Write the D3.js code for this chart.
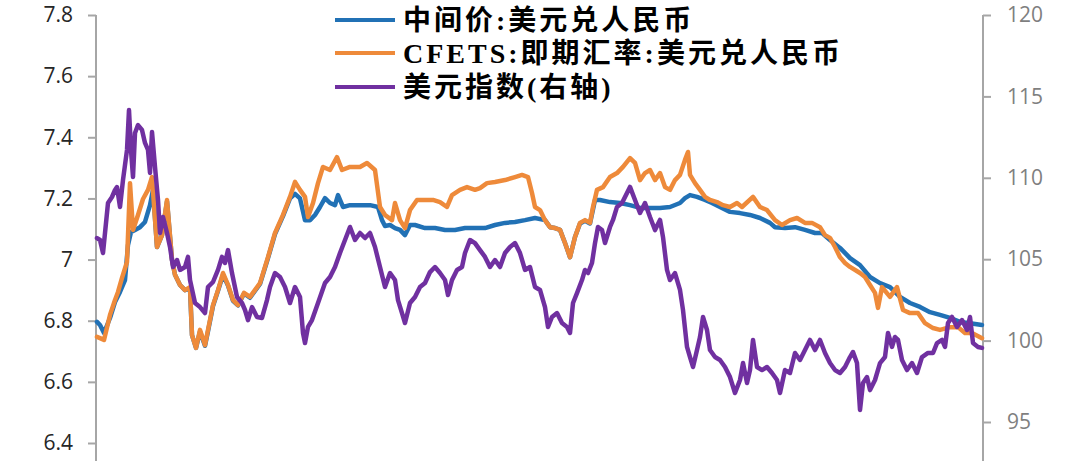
<!DOCTYPE html>
<html>
<head>
<meta charset="utf-8">
<script src="https://cdn.jsdelivr.net/npm/d3@7/dist/d3.min.js"></script>
<style>
  html, body { margin: 0; padding: 0; background: #fff; }
  svg { display: block; }
</style>
</head>
<body>
<svg id="chart" width="1080" height="461"></svg>
<script>
// ---- data (trading-day index, value) ----
const seriesNames = ["中间价:美元兑人民币", "CFETS:即期汇率:美元兑人民币", "美元指数(右轴)"];
const seriesColors = ["#2171b5", "#ee8a3a", "#7030a0"];
const leftTicks = [6.4, 6.6, 6.8, 7.0, 7.2, 7.4, 7.6, 7.8];
const rightTicks = [95, 100, 105, 110, 115, 120];

const midRate = [[0,6.796],[3,6.786],[7,6.760],[13,6.809],[18,6.861],[23,6.894],[28,6.933],[31,7.048],[34,7.090],[38,7.097],[43,7.106],[48,7.123],[53,7.178],[56,7.228],[60,7.041],[65,7.080],[70,7.190],[75,6.999],[78,6.950],[83,6.917],[88,6.900],[93,6.905],[95,6.753],[99,6.711],[103,6.765],[108,6.718],[111,6.765],[116,6.848],[121,6.898],[126,6.950],[131,6.915],[136,6.865],[141,6.850],[147,6.889],[153,6.875],[163,6.920],[171,7.005],[178,7.083],[186,7.142],[193,7.200],[198,7.215],[203,7.200],[208,7.129],[213,7.129],[218,7.146],[223,7.172],[228,7.201],[233,7.185],[238,7.178],[241,7.211],[246,7.172],[253,7.178],[263,7.178],[273,7.178],[281,7.172],[285,7.129],[288,7.110],[293,7.113],[298,7.103],[303,7.097],[308,7.080],[313,7.113],[318,7.113],[328,7.103],[338,7.103],[348,7.097],[358,7.097],[368,7.103],[378,7.103],[388,7.103],[398,7.113],[408,7.120],[418,7.123],[428,7.129],[438,7.136],[448,7.129],[453,7.106],[458,7.103],[463,7.097],[468,7.054],[473,7.008],[478,7.074],[483,7.118],[488,7.127],[493,7.118],[498,7.195],[503,7.195],[513,7.188],[523,7.185],[533,7.178],[543,7.169],[553,7.169],[563,7.169],[573,7.172],[583,7.185],[588,7.201],[593,7.211],[600,7.205],[608,7.195],[615,7.185],[623,7.172],[633,7.156],[643,7.152],[653,7.146],[663,7.136],[673,7.120],[678,7.106],[688,7.103],[698,7.106],[708,7.097],[718,7.087],[725,7.087],[733,7.064],[743,7.038],[753,7.005],[763,6.982],[773,6.943],[783,6.923],[793,6.910],[803,6.878],[813,6.858],[823,6.845],[833,6.828],[843,6.819],[853,6.809],[863,6.796],[873,6.792],[885,6.786]];

const cfetsSpot = [[0,6.747],[3,6.743],[7,6.737],[13,6.819],[18,6.868],[21,6.894],[25,6.940],[30,6.992],[33,7.250],[36,7.097],[41,7.146],[46,7.198],[51,7.228],[55,7.270],[60,7.041],[65,7.080],[70,7.195],[75,6.999],[78,6.950],[83,6.917],[88,6.900],[93,6.910],[95,6.753],[99,6.711],[103,6.770],[108,6.720],[111,6.770],[116,6.851],[121,6.900],[126,6.956],[131,6.917],[136,6.868],[141,6.851],[147,6.891],[153,6.878],[163,6.923],[171,7.008],[178,7.087],[186,7.146],[193,7.205],[198,7.254],[203,7.228],[208,7.205],[211,7.139],[216,7.185],[221,7.250],[226,7.303],[233,7.293],[240,7.335],[245,7.293],[253,7.303],[263,7.303],[270,7.316],[278,7.293],[283,7.172],[288,7.146],[295,7.129],[298,7.185],[303,7.129],[308,7.103],[313,7.162],[320,7.195],[328,7.195],[336,7.195],[343,7.188],[350,7.172],[355,7.211],[363,7.228],[370,7.237],[378,7.228],[383,7.234],[390,7.250],[398,7.254],[408,7.260],[418,7.270],[425,7.277],[431,7.270],[435,7.218],[438,7.172],[443,7.162],[448,7.129],[453,7.106],[458,7.103],[463,7.097],[468,7.054],[473,7.008],[478,7.074],[483,7.120],[488,7.129],[493,7.120],[496,7.172],[500,7.228],[506,7.237],[513,7.270],[520,7.283],[526,7.303],[533,7.332],[538,7.316],[543,7.260],[548,7.283],[553,7.293],[558,7.260],[563,7.283],[568,7.237],[573,7.228],[578,7.260],[583,7.277],[588,7.326],[591,7.352],[593,7.277],[598,7.250],[603,7.228],[608,7.205],[613,7.195],[620,7.188],[626,7.178],[633,7.172],[640,7.185],[645,7.172],[656,7.205],[663,7.172],[670,7.162],[678,7.129],[685,7.113],[693,7.129],[700,7.136],[708,7.120],[715,7.120],[723,7.106],[728,7.080],[733,7.071],[738,7.041],[743,7.008],[748,6.989],[753,6.976],[763,6.956],[768,6.943],[773,6.917],[778,6.891],[781,6.842],[785,6.910],[793,6.878],[800,6.910],[806,6.835],[813,6.825],[821,6.825],[828,6.792],[836,6.776],[843,6.770],[853,6.779],[861,6.779],[868,6.760],[875,6.760],[885,6.743]];

const dollarIndex = [[0,106.30],[3,106.18],[6,105.38],[8,106.61],[11,108.45],[15,108.82],[18,109.25],[20,109.43],[23,108.21],[26,109.86],[30,111.71],[32,114.16],[34,111.71],[36,110.05],[38,112.75],[41,113.24],[45,112.94],[48,112.14],[51,111.71],[53,110.30],[55,112.81],[58,110.66],[61,108.64],[63,106.61],[66,107.59],[70,106.61],[73,105.75],[76,104.52],[80,104.95],[83,104.34],[88,104.52],[91,105.14],[93,103.72],[98,102.31],[103,102.06],[108,101.69],[111,103.29],[116,103.60],[121,104.34],[125,105.14],[128,104.77],[131,105.56],[135,104.15],[140,102.68],[145,102.31],[148,101.88],[151,101.26],[155,102.06],[160,101.45],[165,101.39],[170,102.49],[173,103.29],[178,104.15],[183,103.91],[188,103.29],[193,102.31],[198,103.29],[203,102.68],[206,100.47],[208,99.85],[211,100.84],[215,101.26],[221,102.31],[228,103.54],[233,103.91],[238,104.52],[243,105.38],[248,106.18],[253,106.98],[258,106.18],[263,106.61],[268,106.30],[273,106.61],[278,105.75],[283,104.52],[288,103.29],[293,104.15],[298,103.72],[301,102.49],[305,101.69],[308,101.08],[313,102.31],[318,102.68],[323,103.29],[328,103.54],[333,104.21],[338,104.52],[343,104.15],[348,103.72],[351,102.80],[355,103.72],[360,104.34],[365,104.52],[368,105.38],[373,106.18],[378,105.99],[383,105.56],[388,105.14],[393,104.52],[398,104.95],[403,104.52],[408,105.38],[413,105.75],[418,105.99],[423,105.38],[428,104.34],[433,104.52],[438,103.29],[443,103.11],[448,102.06],[451,100.84],[455,101.45],[460,101.69],[465,101.08],[470,100.84],[473,100.47],[476,102.31],[480,102.92],[485,103.72],[488,104.34],[491,104.15],[495,104.77],[498,105.99],[501,106.98],[505,106.79],[508,105.99],[513,106.98],[516,107.41],[520,108.21],[525,108.45],[530,109.07],[533,109.44],[538,108.64],[543,107.84],[548,108.45],[553,107.59],[558,106.79],[563,107.41],[566,106.36],[570,104.34],[573,103.72],[578,104.15],[583,103.11],[586,101.88],[590,99.61],[593,98.99],[596,98.38],[600,99.42],[603,100.22],[606,101.45],[610,100.65],[613,99.42],[618,98.99],[623,98.81],[628,98.38],[633,97.76],[638,96.78],[643,97.58],[646,98.62],[650,97.40],[653,98.19],[656,100.04],[660,98.38],[665,98.19],[670,98.38],[675,98.01],[680,97.58],[683,96.78],[688,98.19],[693,98.01],[698,99.24],[703,98.81],[708,99.42],[713,100.04],[718,99.42],[723,100.04],[728,99.24],[733,98.62],[738,98.19],[743,98.01],[748,98.38],[753,98.99],[756,99.30],[760,98.62],[763,95.74],[766,97.40],[770,97.76],[773,96.96],[778,97.58],[783,98.62],[788,98.99],[791,100.47],[795,99.61],[798,100.22],[801,100.04],[805,98.81],[810,98.19],[815,98.62],[820,98.01],[825,98.99],[831,99.24],[836,99.24],[840,99.85],[845,100.04],[848,99.61],[851,101.08],[855,101.45],[860,100.84],[865,101.26],[870,100.65],[873,101.45],[876,99.85],[881,99.61],[885,99.55]];

// ---- layout ----
const svg = d3.select("#chart");
const W = 1080, H = 461;
const plotLeft = 96, plotRight = 983, plotTop = 15;

const x = d3.scaleLinear().domain([0, 885]).range([plotLeft + 1, plotRight - 1]);
const yL = d3.scaleLinear().domain([6.4, 7.8]).range([443, plotTop]);
const yR = d3.scaleLinear().domain([95, 120]).range([422, plotTop]);

const numFont = "'Open Sans', 'Liberation Sans', sans-serif";

// left axis
const gL = svg.append("g").attr("transform", `translate(${plotLeft},0)`)
  .call(d3.axisLeft(yL).tickValues(leftTicks).tickSize(8).tickPadding(15)
    .tickFormat(d => d === 7 ? "7" : d3.format(".1f")(d)));
gL.select(".domain").remove();
gL.selectAll(".tick line").attr("stroke", "#a6a6a6").attr("stroke-width", 2);
gL.selectAll(".tick text").attr("fill", "#262626").style("font-family", numFont).style("font-size", "21px");
svg.append("line").attr("x1", plotLeft).attr("x2", plotLeft).attr("y1", plotTop).attr("y2", H)
  .attr("stroke", "#a6a6a6").attr("stroke-width", 2);

// right axis
const gR = svg.append("g").attr("transform", `translate(${plotRight},0)`)
  .call(d3.axisRight(yR).tickValues(rightTicks).tickSize(8).tickPadding(16));
gR.select(".domain").remove();
gR.selectAll(".tick line").attr("stroke", "#a6a6a6").attr("stroke-width", 2);
gR.selectAll(".tick text").attr("fill", "#7f7f7f").style("font-family", numFont).style("font-size", "21px");
svg.append("line").attr("x1", plotRight).attr("x2", plotRight).attr("y1", plotTop).attr("y2", H)
  .attr("stroke", "#a6a6a6").attr("stroke-width", 2);

// lines
const lineL = d3.line().x(d => x(d[0])).y(d => yL(d[1]));
const lineR = d3.line().x(d => x(d[0])).y(d => yR(d[1]));

const plotData = [
  { data: midRate, gen: lineL, color: seriesColors[0] },
  { data: cfetsSpot, gen: lineL, color: seriesColors[1] },
  { data: dollarIndex, gen: lineR, color: seriesColors[2] }
];
svg.append("g").selectAll("path").data(plotData).join("path")
  .attr("d", d => d.gen(d.data))
  .attr("fill", "none")
  .attr("stroke", d => d.color)
  .attr("stroke-width", 4.5)
  .attr("stroke-linejoin", "round")
  .attr("stroke-linecap", "round");

// legend
const legendY = [20, 53, 87];
const lg = svg.append("g").selectAll("g").data(seriesNames).join("g")
  .attr("transform", (d, i) => `translate(335,${legendY[i]})`);
lg.append("line").attr("x1", 0).attr("x2", 60).attr("y1", 0).attr("y2", 0)
  .attr("stroke", (d, i) => seriesColors[i]).attr("stroke-width", 4);
lg.append("text").attr("x", 68).attr("y", 0)
  .attr("dominant-baseline", "central")
  .style("font-family", "'Liberation Serif', 'Noto Sans CJK SC', serif")
  .style("font-weight", "700")
  .style("font-size", "28px")
  .style("letter-spacing", "3px")
  .attr("fill", "#000")
  .text(d => d);
</script>
</body>
</html>
